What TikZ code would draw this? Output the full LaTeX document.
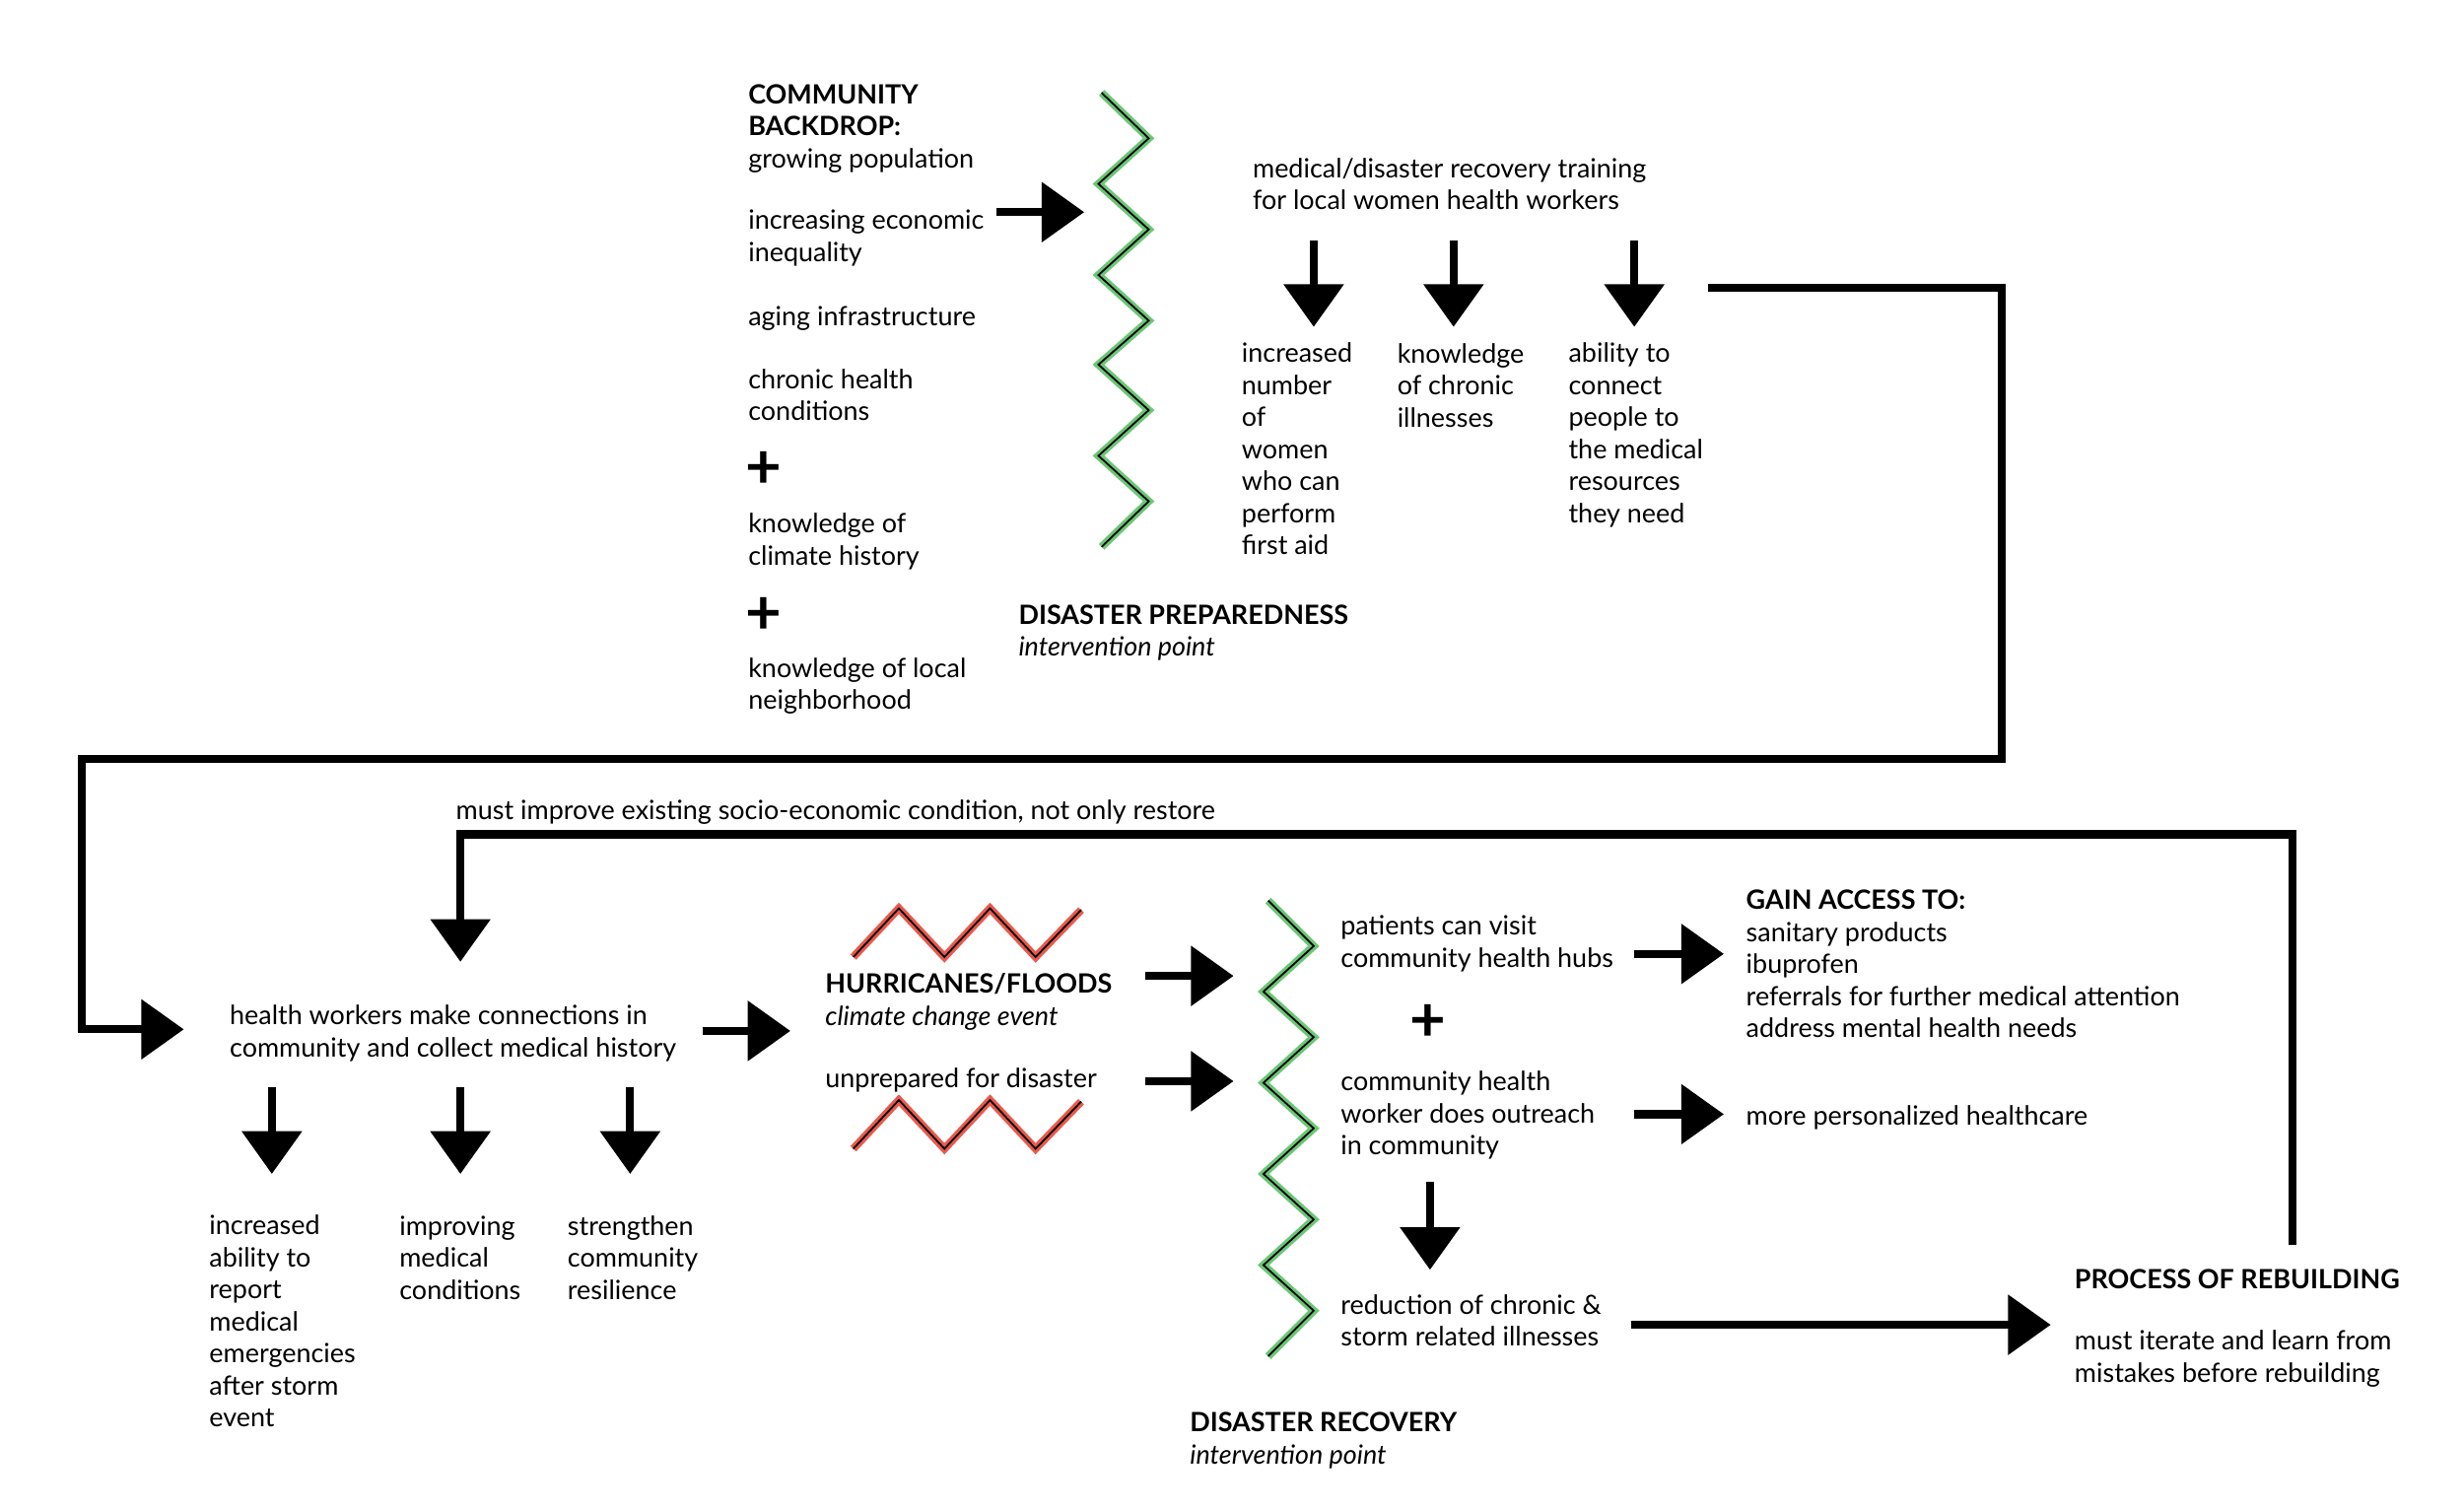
\documentclass[tikz,border=0pt]{standalone}
\usepackage{fontspec}
\setmainfont{Lato}
\usepackage{tikz}
\usetikzlibrary{arrows.meta}
\definecolor{zgreen}{RGB}{108,198,118}
\definecolor{zred}{RGB}{232,90,76}

\begin{document}
\begin{tikzpicture}[x=0.031837cm, y=-0.031837cm,
  txt/.style={anchor=base west, align=left, inner sep=0pt, yshift=-2pt, font=\fontsize{15.3pt}{18.46pt}\selectfont},
  plus/.style={inner sep=0pt, yshift=-2pt, font=\fontsize{36pt}{36pt}\selectfont\bfseries},
  conn/.style={line width=4.7pt},
  arr/.style={conn, -{Triangle[length=0.864cm, width=1.184cm]}},
  gzig/.style={zgreen, line width=4.5pt, postaction={draw, black, line width=1pt}},
  rzig/.style={zred, line width=4.5pt, postaction={draw, black, line width=1pt}}]
\path[use as bounding box, fill=white] (0,0) rectangle (1568,961);

\node[txt] (backdrop) at (476,104.6) {\textbf{COMMUNITY}\\\textbf{BACKDROP:}\\growing population};
\node[txt] (inequality) at (476,164.3) {increasing economic\\inequality};
\node[txt] (infra) at (476,205) {aging infrastructure};
\node[txt] (chronic) at (476,265.3) {chronic health\\conditions};
\node[plus] (plusa) at (486,297) {+};
\node[txt] (climate) at (476,357.3) {knowledge of\\climate history};
\node[plus] (plusb) at (486,390) {+};
\node[txt] (hood) at (476,449.3) {knowledge of local\\neighborhood};

\node[txt] (prep) at (648,415.3) {\textbf{DISASTER PREPAREDNESS}\\\textit{intervention point}};
\node[txt] (training) at (797,131.3) {medical/disaster recovery training\\for local women health workers};
\node[txt] (firstaid) at (790,350.8) {increased\\number\\of\\women\\who can\\perform\\first aid};
\node[txt] (illness) at (889,269.6) {knowledge\\of chronic\\illnesses};
\node[txt] (resources) at (998,330.5) {ability to\\connect\\people to\\the medical\\resources\\they need};

\node[txt] (improve) at (290,519) {must improve existing socio-economic condition, not only restore};
\node[txt] (history) at (146,670.3) {health workers make connections in\\community and collect medical history};
\node[txt] (report) at (133,905.8) {increased\\ability to\\report\\medical\\emergencies\\after storm\\event};
\node[txt] (medcond) at (254,824.6) {improving\\medical\\conditions};
\node[txt] (resil) at (361,824.6) {strengthen\\community\\resilience};
\node[txt] (hurricane) at (525,650.3) {\textbf{HURRICANES/FLOODS}\\\textit{climate change event}};
\node[txt] (unprep) at (525,690) {unprepared for disaster};

\node[txt] (hubs) at (853,613.3) {patients can visit\\community health hubs};
\node[plus] (plusc) at (909,649) {+};
\node[txt] (outreach) at (853,732.6) {community health\\worker does outreach\\in community};
\node[txt] (reduce) at (853,854.3) {reduction of chronic \&\\storm related illnesses};
\node[txt] (recovery) at (757,929.3) {\textbf{DISASTER RECOVERY}\\\textit{intervention point}};
\node[txt] (access) at (1111,658.2) {\textbf{GAIN ACCESS TO:}\\sanitary products\\ibuprofen\\referrals for further medical attention\\address mental health needs};
\node[txt] (personal) at (1111,714) {more personalized healthcare};
\node[txt] (rebuild) at (1320,818) {\textbf{PROCESS OF REBUILDING}};
\node[txt] (iterate) at (1320,877.3) {must iterate and learn from\\mistakes before rebuilding};

\draw[gzig] (701,59) -- (731,88) -- (699,117) -- (731,146) -- (699,175) -- (731,204)
  -- (699,232) -- (731,261) -- (699,290) -- (731,319) -- (701,348);
\draw[gzig] (807,573) -- (836,602) -- (804,631) -- (836,660) -- (804,689) -- (836,718)
  -- (804,747) -- (836,776) -- (804,805) -- (836,834) -- (807,863);
\draw[rzig] (543,609) -- (572,578) -- (601,609) -- (630,578) -- (659,609) -- (688,579);
\draw[rzig] (543,731) -- (572,700) -- (601,731) -- (630,700) -- (659,731) -- (688,701);

\coordinate (bgs) at (634,135); \coordinate (bgt) at (690,135);
\coordinate (tr1s) at (836,153); \coordinate (tr1t) at (836,208);
\coordinate (tr2s) at (925,153); \coordinate (tr2t) at (925,208);
\coordinate (tr3s) at (1040,153); \coordinate (tr3t) at (1040,208);
\coordinate (loopa) at (1087,183); \coordinate (loopb) at (1274,483);
\coordinate (loopc) at (52,483); \coordinate (loopt) at (117,655);
\coordinate (backa) at (1459,792); \coordinate (backb) at (293,531);
\coordinate (backt) at (293,612);
\coordinate (hws) at (447,656); \coordinate (hwt) at (503,656);
\coordinate (hw1s) at (173,692); \coordinate (hw1t) at (173,747);
\coordinate (hw2s) at (293,692); \coordinate (hw2t) at (293,747);
\coordinate (hw3s) at (401,692); \coordinate (hw3t) at (401,747);
\coordinate (hus) at (729,621); \coordinate (hut) at (785,621);
\coordinate (ups) at (729,688); \coordinate (upt) at (785,688);
\coordinate (hbs) at (1040,607); \coordinate (hbt) at (1097,607);
\coordinate (ors) at (1040,709); \coordinate (ort) at (1097,709);
\coordinate (odns) at (910,752); \coordinate (odnt) at (910,808);
\coordinate (rds) at (1038,843); \coordinate (rdt) at (1305,843);

\draw[arr] (bgs) -- (bgt);
\draw[arr] (tr1s) -- (tr1t);
\draw[arr] (tr2s) -- (tr2t);
\draw[arr] (tr3s) -- (tr3t);
\draw[arr] (loopa) -| (loopb) -- (loopc) |- (loopt);
\draw[arr] (backa) |- (backb) -- (backt);
\draw[arr] (hws) -- (hwt);
\draw[arr] (hw1s) -- (hw1t);
\draw[arr] (hw2s) -- (hw2t);
\draw[arr] (hw3s) -- (hw3t);
\draw[arr] (hus) -- (hut);
\draw[arr] (ups) -- (upt);
\draw[arr] (hbs) -- (hbt);
\draw[arr] (ors) -- (ort);
\draw[arr] (odns) -- (odnt);
\draw[arr] (rds) -- (rdt);
\end{tikzpicture}
\end{document}
